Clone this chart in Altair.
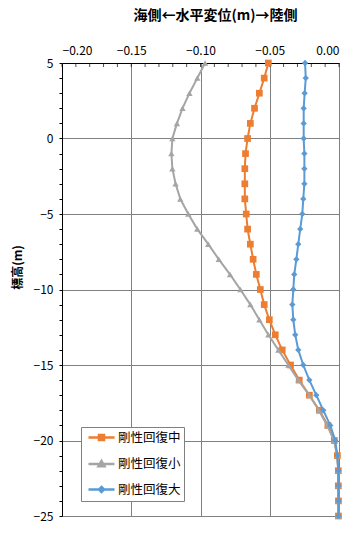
import altair as alt
import pandas as pd

# elevations (m), every 1 m from +5 to -25
elev = list(range(5, -26, -1))

# horizontal displacement (m)
mid = [-0.051, -0.054, -0.0575, -0.061, -0.064, -0.066, -0.0675, -0.068, -0.068, -0.068,
       -0.067, -0.066, -0.064, -0.062, -0.0597, -0.0568, -0.054, -0.0503, -0.046, -0.041,
       -0.035, -0.0287, -0.0214, -0.0142, -0.008, -0.0034, -0.0012, -0.0005, -0.0005,
       -0.0004, -0.0004]
small = [-0.0967, -0.1023, -0.108, -0.113, -0.117, -0.1203, -0.121, -0.1203, -0.118, -0.1146,
         -0.1088, -0.1023, -0.0944, -0.0868, -0.0787, -0.0712, -0.064, -0.0575, -0.051, -0.0438,
         -0.0366, -0.0294, -0.0214, -0.0146, -0.0085, -0.0037, -0.0013, -0.0006, -0.0005,
         -0.0004, -0.0004]
large = [-0.0245, -0.024, -0.0248, -0.0255, -0.0255, -0.0255, -0.025, -0.025, -0.025, -0.0258,
         -0.0265, -0.028, -0.0294, -0.0308, -0.0323, -0.033, -0.0337, -0.033, -0.0316, -0.0294,
         -0.0258, -0.0214, -0.0164, -0.0113, -0.0063, -0.0027, -0.0012, -0.0005, -0.0004,
         -0.0004, -0.0004]

series_names = ["剛性回復中", "剛性回復小", "剛性回復大"]
colors = ["#ED7D31", "#A5A5A5", "#5B9BD5"]
shapes = ["square", "triangle-up", "diamond"]
marker_sizes = [45, 40, 40]
legend_paths = [
    "M-2.17,0H2.17M-0.42,-0.42H0.42V0.42H-0.42Z",
    "M-2.17,0H2.17M0,-0.5L0.5,0.38H-0.5Z",
    "M-2.17,0H2.17M0,-0.42L0.42,0L0,0.42L-0.42,0Z",
]

x_major = [-0.20, -0.15, -0.10, -0.05, 0.00]
x_minor = [round(-0.20 + 0.01 * i, 2) for i in range(21)]
y_ticks = list(range(5, -26, -1))

rows = []
for name, vals in zip(series_names, [mid, small, large]):
    for e, v in zip(elev, vals):
        rows.append({"series": name, "elev": e, "disp": v})
df = pd.DataFrame(rows)

font = "Noto Sans CJK JP"
xscale = alt.Scale(domain=[-0.2, 0.0], nice=False, zero=False)
yscale = alt.Scale(domain=[-25, 5], nice=False, zero=False)

x_axis = alt.Axis(orient="top", values=x_major, format=".2f", grid=True,
                  gridColor="#808080", gridOpacity=1, ticks=False, domainColor="black",
                  labelFont=font, labelFontSize=12, labelColor="black", labelPadding=6,
                  title=None)
y_axis = alt.Axis(values=y_ticks, format="d",
                  labelExpr="datum.value % 5 == 0 ? datum.label : ''",
                  grid=True, gridColor="#808080",
                  gridOpacity={"condition": {"test": "datum.value % 5 != 0", "value": 0}, "value": 1},
                  tickSize=3, tickColor="black", domainColor="black",
                  labelFont=font, labelFontSize=12, labelColor="black", labelPadding=6,
                  title="標高(m)", titleFont=font, titleFontSize=12, titleFontWeight="bold",
                  titleColor="black", titleAngle=270, titleX=-45, titleY=204,
                  titleAlign="center", titleBaseline="middle")

# small inward ticks along the top axis every 0.01
minor_ticks = alt.Chart(pd.DataFrame({"t": x_minor})).mark_tick(
    color="black", thickness=1, size=4, orient="vertical").encode(
    x=alt.X("t:Q", scale=xscale, axis=x_axis),
    y=alt.value(2))

layers = [minor_ticks]
for name, col, shp, sz in zip(series_names, colors, shapes, marker_sizes):
    sub = alt.Chart(df).transform_filter(alt.datum.series == name)
    line = sub.mark_line(strokeWidth=2, color=col).encode(
        x=alt.X("disp:Q", scale=xscale, axis=x_axis),
        y=alt.Y("elev:Q", scale=yscale, axis=y_axis),
        order=alt.Order("elev:Q", sort="descending"))
    pts = sub.mark_point(filled=True, color=col, shape=shp, size=sz, opacity=1).encode(
        x=alt.X("disp:Q", scale=xscale, axis=x_axis),
        y=alt.Y("elev:Q", scale=yscale, axis=y_axis))
    layers += [line, pts]

leg = alt.Legend(orient="none", legendX=19, legendY=364, title=None,
                 fillColor="white", strokeColor="#808080", padding=3, rowPadding=9.5,
                 symbolOffset=10, labelOffset=9, labelFont=font, labelFontSize=12.5,
                 labelColor="black", symbolSize=144, symbolStrokeWidth=2.5,
                 symbolOpacity=1)

driver = alt.Chart(df).transform_filter("false").mark_point(filled=True).encode(
    x=alt.X("disp:Q", scale=xscale, axis=x_axis),
    y=alt.Y("elev:Q", scale=yscale, axis=y_axis),
    fill=alt.Fill("series:N", scale=alt.Scale(domain=series_names, range=colors), legend=leg),
    stroke=alt.Stroke("series:N", scale=alt.Scale(domain=series_names, range=colors), legend=leg),
    shape=alt.Shape("series:N", scale=alt.Scale(domain=series_names, range=legend_paths), legend=leg),
)
layers.append(driver)

chart = alt.layer(*layers).properties(
    width=277, height=453,
    title=alt.TitleParams("海側←水平変位(m)→陸側", font=font, fontSize=14, fontWeight="bold",
                          color="black", anchor="middle", dx=15, offset=21),
    autosize=alt.AutoSizeParams(type="none"),
    padding={"left": 62, "top": 63, "right": 19, "bottom": 24},
).configure_view(stroke=None).configure(background="white")

chart.save("out.html", embed_options={"renderer": "svg", "actions": False})
